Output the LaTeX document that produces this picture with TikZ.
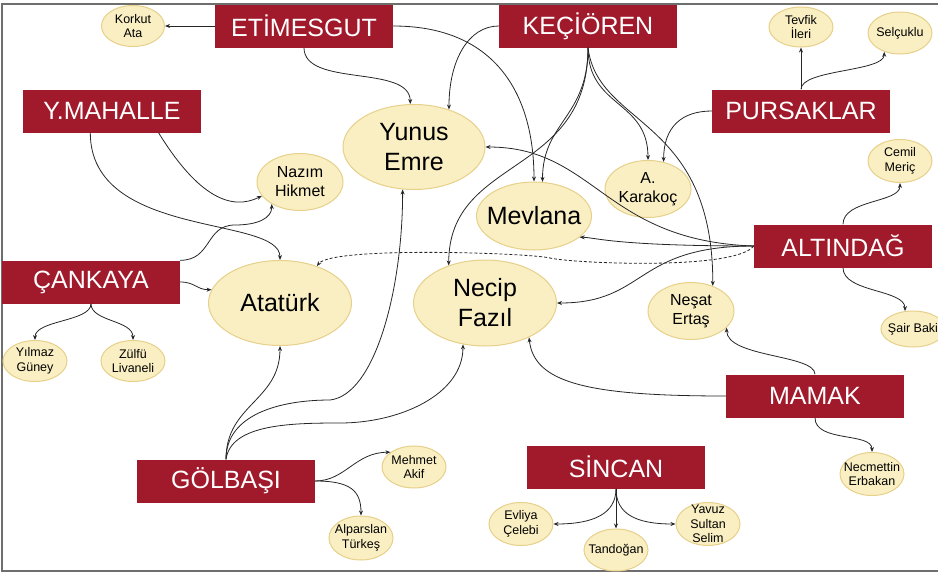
\documentclass[tikz,border=0pt]{standalone}
\usepackage{fontspec}
\setmainfont{Liberation Sans}
\usetikzlibrary{arrows.meta, shapes.geometric}

\definecolor{distred}{HTML}{A11A2B}
\definecolor{poetfill}{HTML}{FAEFC3}
\definecolor{poetline}{HTML}{E6D08A}
\definecolor{framegrey}{HTML}{6E6E6E}

\begin{document}
\begin{tikzpicture} [x=1pt, y=-1pt,
        district/.style={rectangle, fill=distred, text=white, inner sep=0pt,
            minimum width=178pt, minimum height=43pt, font=\fontsize{25}{30}\selectfont},
        poet/.style={ellipse, fill=poetfill, draw=poetline, line width=1pt, align=center,
            inner sep=-20pt, minimum width=64pt, minimum height=42pt,
            font=\fontsize{12.5}{14.5}\selectfont},
        midpoet/.style={poet, minimum width=86pt, minimum height=57pt, font=\fontsize{16}{19}\selectfont},
        bigpoet/.style={poet, minimum width=143pt, minimum height=85pt, font=\fontsize{25}{30}\selectfont},
        link/.style={draw=black!85, line width=0.8pt, -{Stealth[length=5pt, width=4pt]}}]
    \useasboundingbox (0,0) rectangle (938,573);
    \draw[framegrey, line width=1.5pt] (2,4) rectangle (950,571);

    % districts
    \node[district] (etimesgut) at (304,26) {ETİMESGUT};
    \node[district] (kecioren) at (588,26) {KEÇİÖREN};
    \node[district] (ymahalle) at (112,111) {Y.MAHALLE};
    \node[district] (pursaklar) at (801,111) {PURSAKLAR};
    \node[district] (altindag) at (843,246) {ALTINDAĞ};
    \node[district] (cankaya) at (91,282) {ÇANKAYA};
    \node[district] (mamak) at (815,396) {MAMAK};
    \node[district] (sincan) at (616,467) {SİNCAN};
    \node[district] (golbasi) at (226,481) {GÖLBAŞI};

    % poets
    \node[poet, minimum width=63pt, minimum height=41pt] (korkut) at (133,26) {Korkut\\Ata};
    \node[bigpoet, minimum width=142pt] (yunus) at (414,147) {Yunus\\Emre};
    \node[midpoet] (nazim) at (300,182) {Nazım\\Hikmet};
    \node[bigpoet] (ataturk) at (280,303) {Atatürk};
    \node[bigpoet, minimum height=86pt] (necip) at (485,303) {Necip\\Fazıl};
    \node[bigpoet, minimum width=115pt, minimum height=68pt] (mevlana) at (534,216) {Mevlana};
    \node[midpoet] (karakoc) at (648,189) {A.\\Karakoç};
    \node[midpoet] (nesat) at (691,311) {Neşat\\Ertaş};
    \node[poet, minimum height=40pt] (tevfik) at (801,27) {Tevfik\\İleri};
    \node[poet] (selcuklu) at (900,33) {Selçuklu};
    \node[poet, minimum height=43pt] (cemil) at (900,161) {Cemil\\Meriç};
    \node[poet, minimum height=36pt] (sairbaki) at (913,329) {Şair Baki};
    \node[poet, minimum height=41pt] (yilmaz) at (35,361) {Yılmaz\\Güney};
    \node[poet, minimum height=41pt] (zulfu) at (133,361) {Zülfü\\Livaneli};
    \node[poet] (mehmet) at (414,467) {Mehmet\\Akif};
    \node[poet, minimum height=44pt] (alparslan) at (361,538) {Alparslan\\Türkeş};
    \node[poet, minimum height=43pt] (necmettin) at (872,474) {Necmettin\\Erbakan};
    \node[poet, minimum height=43pt] (evliya) at (521,524) {Evliya\\Çelebi};
    \node[poet] (tandogan) at (616,550) {Tandoğan};
    \node[poet, minimum height=43pt] (yavuz) at (708,524) {Yavuz\\Sultan\\Selim};

    \coordinate (dashbend) at (550,258);
    \coordinate (golbend) at (330,400);
    \coordinate (golbendb) at (340,423);
    \coordinate (cankbend) at (235,225);

    % links
    \draw[link] (etimesgut.west) -- (korkut.east);
    \draw[link] (etimesgut.south) .. controls +(0,40) and +(0,-40) .. (yunus.95);
    \draw[link] (etimesgut.east) .. controls +(100,0) and +(0,-90) .. (mevlana.north);
    \draw[link] (kecioren.west) .. controls +(-30,0) and +(0,-50) .. (yunus.47);
    \draw[link] (kecioren.south) .. controls +(0,70) and +(0,-60) .. (mevlana.76);
    \draw[link] (kecioren.south) .. controls +(0,130) and +(0,-110) .. (necip.134);
    \draw[link] (kecioren.south) .. controls +(0,60) and +(0,-60) .. (karakoc.north);
    \draw[link] (kecioren.south) .. controls +(10,80) and +(0,-170) .. (nesat.49);
    \draw[link] (pursaklar.west) .. controls +(-30,0) and +(0,-35) .. (karakoc.60);
    \draw[link] (pursaklar.north) -- (tevfik.south);
    \draw[link] (pursaklar.north) .. controls +(0,-20) and +(0,20) .. (selcuklu.230);

    \draw[link] (altindag.west) .. controls +(-140,0) and +(15,0) .. (mevlana.335);
    \draw[link] (altindag.west) .. controls +(-150,-5) and +(110,0) .. (yunus.east);
    \draw[link] (altindag.west) .. controls +(-120,0) and +(90,0) .. (necip.east);
    \draw[link, dash pattern=on 3pt off 2pt] (altindag.west) .. controls +(-20,25) and +(20,5) .. (dashbend)
        .. controls +(-20,-5) and +(15,-20) .. (ataturk.45);
    \draw[link] (altindag.north) .. controls +(0,-25) and +(0,20) .. (cemil.south);
    \draw[link] (altindag.south) .. controls +(0,25) and +(0,-22) .. (sairbaki.114);

    \draw[link] (mamak.north) .. controls +(0,-20) and +(0,30) .. (nesat.335);
    \draw[link] (mamak.west) .. controls +(-140,0) and +(5,45) .. (necip.322);
    \draw[link] (mamak.south) .. controls +(0,25) and +(0,-20) .. (necmettin.north);

    \draw[link] (sincan.south) .. controls +(0,25) and +(40,0) .. (evliya.east);
    \draw[link] (sincan.south) -- (tandogan.north);
    \draw[link] (sincan.south) .. controls +(0,25) and +(-40,0) .. (yavuz.west);

    \draw[link] (golbasi.north) .. controls +(0,-55) and +(0,55) .. (ataturk.south);
    \draw[link] (golbasi.north) .. controls +(0,-45) and +(-50,0) .. (golbend)
        .. controls +(45,-5) and +(0,100) .. (yunus.255);
    \draw[link] (golbasi.north) .. controls +(5,-35) and +(-50,0) .. (golbendb)
        .. controls +(60,0) and +(0,50) .. (necip.242);
    \draw[link] (golbasi.east) .. controls +(30,0) and +(-35,0) .. (mehmet.148);
    \draw[link] (golbasi.east) .. controls +(35,0) and +(0,-25) .. (alparslan.north);

    \draw[link] (ymahalle.225) .. controls +(0,107) and +(0,-45) .. (ataturk.north);
    \draw[link] (ymahalle.335) .. controls +(40,65) and +(-30,15) .. (nazim.200);

    \draw[link] (cankaya.north east) .. controls +(32,0) and +(-30,0) .. (cankbend)
        .. controls +(23,0) and +(0,14) .. (nazim.218);
    \draw[link] (cankaya.east) .. controls +(15,0) and +(-15,0) .. (ataturk.169);
    \draw[link] (cankaya.south) .. controls +(0,18) and +(0,-20) .. (yilmaz.north);
    \draw[link] (cankaya.south) .. controls +(0,18) and +(0,-20) .. (zulfu.north);
\end{tikzpicture}
\end{document}
